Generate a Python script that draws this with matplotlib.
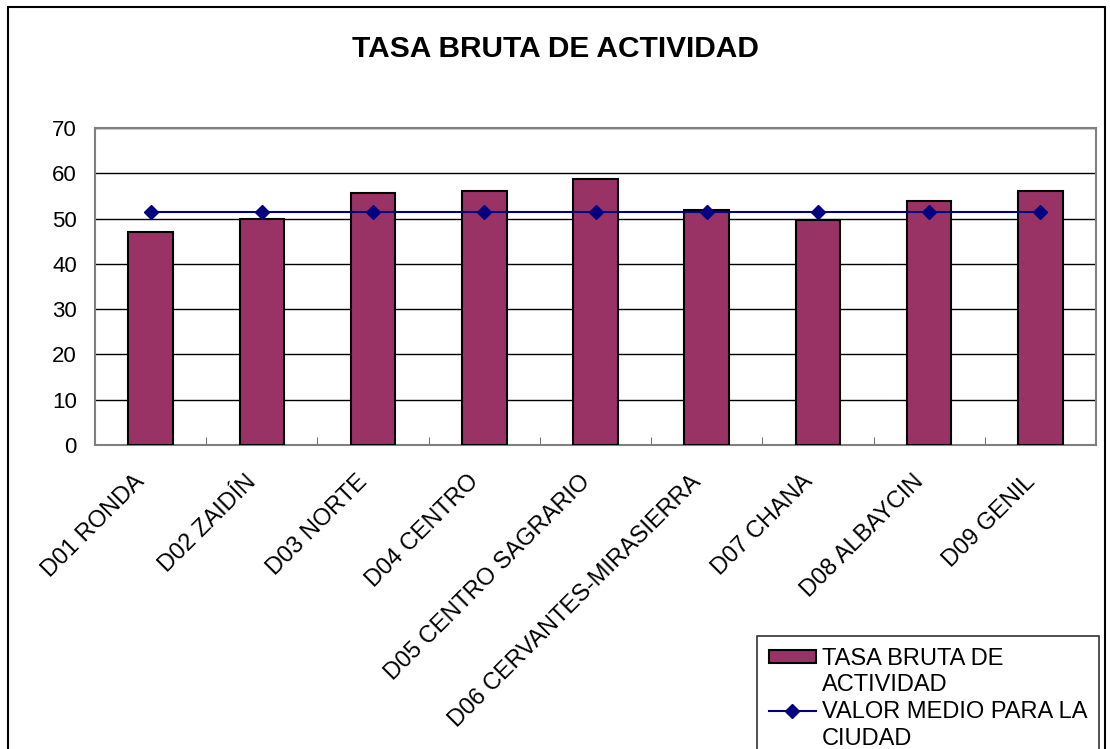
import numpy as np
import matplotlib.pyplot as plt
from matplotlib.patches import Rectangle
from matplotlib.transforms import ScaledTranslation

plt.rcParams['font.family'] = ['Liberation Sans', 'DejaVu Sans']

# datos
distritos = ["D01 RONDA", "D02 ZAIDÍN", "D03 NORTE", "D04 CENTRO",
             "D05 CENTRO SAGRARIO", "D06 CERVANTES-MIRASIERRA",
             "D07 CHANA", "D08 ALBAYCIN", "D09 GENIL"]
tasa_bruta = [47.0, 49.9, 55.6, 56.1, 58.7, 51.9, 49.7, 53.9, 56.1]
valor_medio = [51.5] * 9

fig = plt.figure(figsize=(11.1, 7.49), dpi=100)
ax = fig.add_axes([0.0856, 0.4059, 0.9018, 0.4232])

x = np.arange(len(distritos))
barras = ax.bar(x, tasa_bruta, width=0.4, color="#993366", edgecolor="black",
                linewidth=1.5, zorder=3)
linea, = ax.plot(x, valor_medio, color="#000080", marker="D", markersize=7,
                 linewidth=1.5, zorder=4)

ax.set_xlim(-0.5, len(distritos) - 0.5)
ax.set_ylim(0, 70)
ax.set_yticks(range(0, 71, 10))
ax.tick_params(axis="y", labelsize=16, length=0, pad=13)
ax.set_xticks(x)
ax.set_xticklabels(distritos, rotation=45, ha="right", va="center",
                   rotation_mode="anchor", fontsize=17)
ax.tick_params(axis="x", length=0, pad=22)
# desplazar un poco las etiquetas
desp = ScaledTranslation(-9 / 100, -3 / 100, fig.dpi_scale_trans)
for lab in ax.get_xticklabels():
    lab.set_transform(lab.get_transform() + desp)
ax.set_xticks(np.arange(0.5, len(distritos) - 0.5), minor=True)
ax.tick_params(axis="x", which="minor", direction="in", length=6,
               color="#555555")
ax.grid(axis="y", color="black", linewidth=1, zorder=0)
for s in ax.spines.values():
    s.set_color("#808080")
    s.set_linewidth(1.5)

fig.suptitle("TASA BRUTA DE ACTIVIDAD", fontsize=21.5, fontweight="bold",
             y=0.953)

fig.patches.append(Rectangle((0.0072, -0.05), 0.9883, 1.0407,
                             transform=fig.transFigure, fill=False,
                             edgecolor="black", linewidth=1.5))

# leyenda: cada etiqueta en dos filas, el símbolo junto a la primera
vacio = Rectangle((0, 0), 1, 1, alpha=0)
leg = fig.legend([barras, vacio, linea, vacio],
                 ["TASA BRUTA DE", "ACTIVIDAD", "VALOR MEDIO PARA LA", "CIUDAD"],
                 loc="upper left", bbox_to_anchor=(0.682, 0.151),
                 fontsize=17, frameon=True, fancybox=False,
                 edgecolor="black", borderaxespad=0, labelspacing=0.2,
                 handlelength=2.0, handleheight=0.5, handletextpad=0.25,
                 borderpad=0.5)
leg.get_frame().set_linewidth(1.2)

fig.savefig("out.png", dpi=100)
plt.close()
